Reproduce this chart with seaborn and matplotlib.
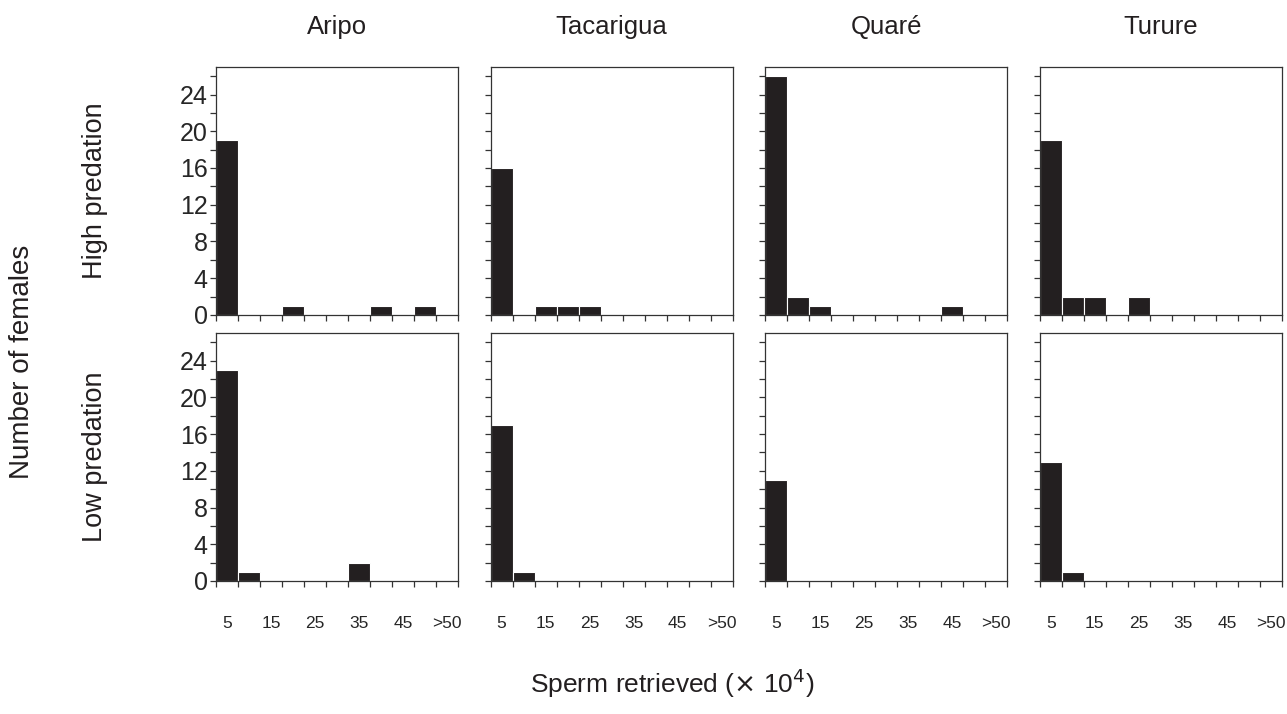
import numpy as np
import pandas as pd
import matplotlib
matplotlib.use('Agg')
import matplotlib.pyplot as plt
import seaborn as sns

# sperm retrieved bins (x 10^4), width 5 each, last bin is >50
bins = ['5', '10', '15', '20', '25', '30', '35', '40', '45', '50', '>50']
tick_labels = ['5', '15', '25', '35', '45', '>50']
rivers = ['Aripo', 'Tacarigua', 'Quaré', 'Turure']
regimes = ['High predation', 'Low predation']

# number of females per bin
aripo_high = [19, 0, 0, 1, 0, 0, 0, 1, 0, 1, 0]
tacarigua_high = [16, 0, 1, 1, 1, 0, 0, 0, 0, 0, 0]
quare_high = [26, 2, 1, 0, 0, 0, 0, 0, 1, 0, 0]
turure_high = [19, 2, 2, 0, 2, 0, 0, 0, 0, 0, 0]

aripo_low = [23, 1, 0, 0, 0, 0, 2, 0, 0, 0, 0]
tacarigua_low = [17, 1, 0, 0, 0, 0, 0, 0, 0, 0, 0]
quare_low = [11, 0, 0, 0, 0, 0, 0, 0, 0, 0, 0]
turure_low = [13, 1, 0, 0, 0, 0, 0, 0, 0, 0, 0]

counts = {
    ('High predation', 'Aripo'): aripo_high,
    ('High predation', 'Tacarigua'): tacarigua_high,
    ('High predation', 'Quaré'): quare_high,
    ('High predation', 'Turure'): turure_high,
    ('Low predation', 'Aripo'): aripo_low,
    ('Low predation', 'Tacarigua'): tacarigua_low,
    ('Low predation', 'Quaré'): quare_low,
    ('Low predation', 'Turure'): turure_low,
}

rows = []
for (regime, river), vals in counts.items():
    for b, v in zip(bins, vals):
        rows.append({'regime': regime, 'river': river, 'bin': b, 'n': v})
df = pd.DataFrame(rows)

sns.set_style('ticks')
plt.rcParams['font.family'] = ['Liberation Sans', 'DejaVu Sans']
plt.rcParams['text.color'] = '#231f20'

bar_color = '#231f20'

fig, axes = plt.subplots(2, 4, figsize=(12.87, 7.14), dpi=100)
fig.subplots_adjust(left=0.1678, right=0.9961, bottom=0.1863, top=0.9062,
                    wspace=0.134, hspace=0.073)

for i, regime in enumerate(regimes):
    for j, river in enumerate(rivers):
        ax = axes[i, j]
        sub = df[(df['regime'] == regime) & (df['river'] == river)]
        sns.barplot(data=sub, x='bin', y='n', order=bins, ax=ax,
                    color=bar_color, width=1, edgecolor='white',
                    linewidth=0.8, saturation=1)
        ax.set_xlim(-0.5, 10.5)
        ax.set_ylim(0, 27)
        ax.set_xlabel('')
        ax.set_ylabel('')

        for s in ax.spines.values():
            s.set_visible(True)
            s.set_linewidth(0.9)
            s.set_color('#333333')

        # y ticks every 2, labels every 4
        ax.set_yticks(np.arange(0, 25, 4))
        ax.set_yticks(np.arange(2, 27, 4), minor=True)
        ax.tick_params(axis='y', which='both', direction='out', length=4,
                       width=0.9, color='#333333', labelsize=18, pad=2)
        if j > 0:
            ax.set_yticklabels([])

        # x ticks at bin edges, labels at every other bin centre
        ax.set_xticks(np.arange(-0.5, 11, 1), minor=True)
        ax.set_xticks(np.arange(0, 11, 2))
        ax.tick_params(axis='x', which='minor', direction='out', length=4,
                       width=0.9, color='#333333')
        ax.tick_params(axis='x', which='major', length=0, labelsize=12.5,
                       pad=25)
        if i == 1:
            ax.set_xticklabels(tick_labels)
        else:
            ax.set_xticklabels([])

        if i == 0:
            ax.set_title(river, fontsize=18.5, pad=24)

fig.text(95 / 1287, 0.7325, regimes[0], rotation=90, fontsize=19.5,
         ha='center', va='center')
fig.text(95 / 1287, 0.360, regimes[1], rotation=90, fontsize=19.5,
         ha='center', va='center')
fig.text(22 / 1287, 0.493, 'Number of females', rotation=90, fontsize=20,
         ha='center', va='center')
fig.text(672 / 1287, 0.043, r'Sperm retrieved ($\times$ 10$^4$)', fontsize=19,
         ha='center', va='center')

fig.savefig('out.png', dpi=100)
